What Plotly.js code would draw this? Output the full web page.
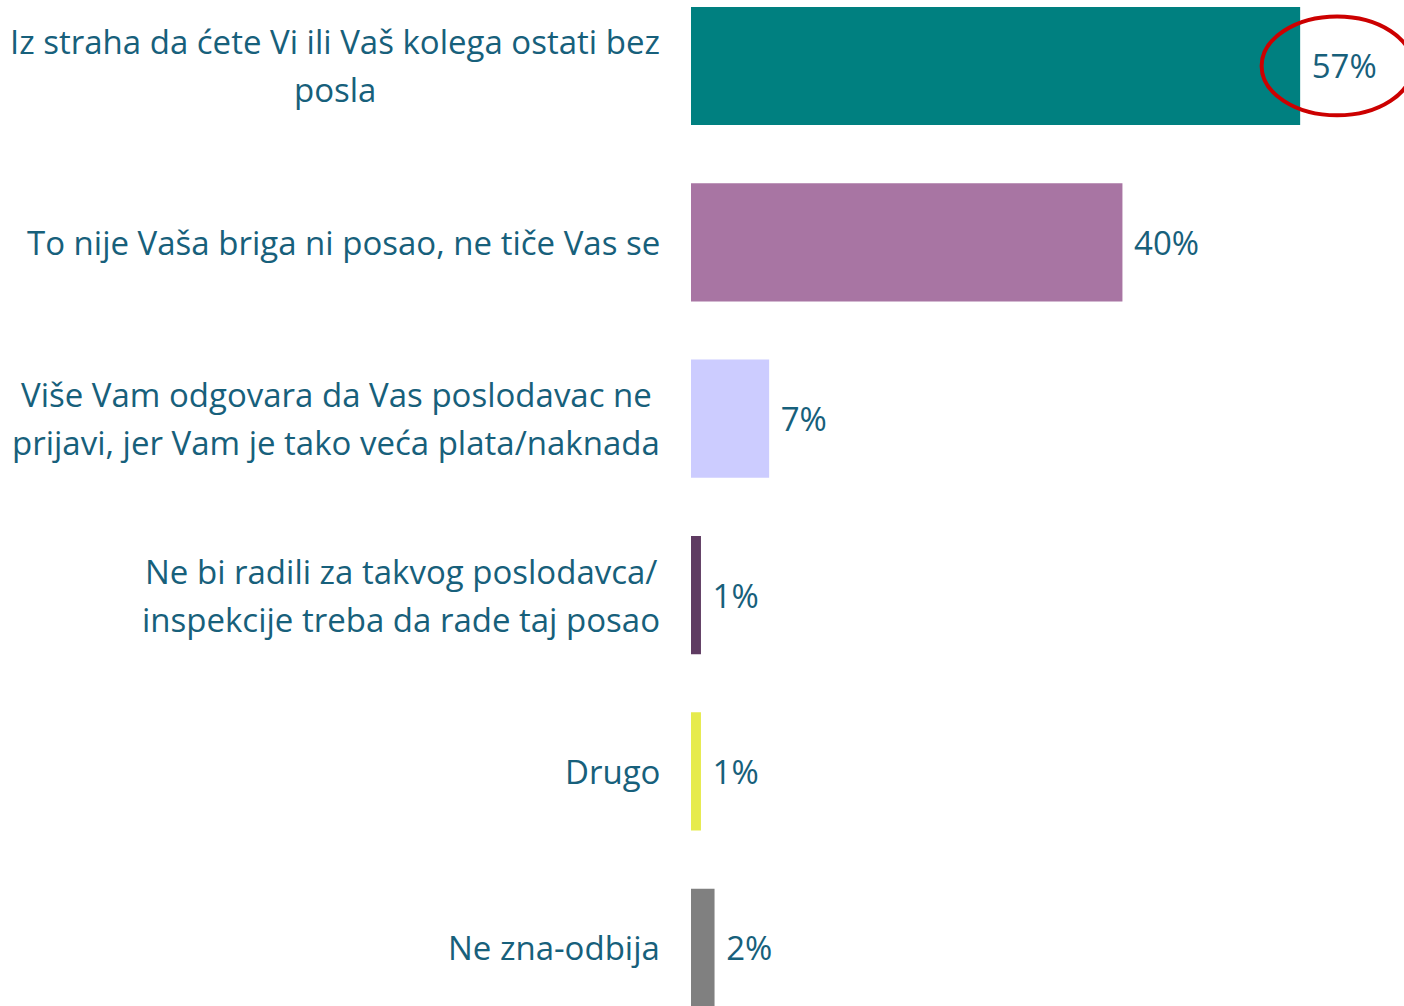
<!DOCTYPE html>
<html>
<head>
<meta charset="utf-8">
<script src="https://cdn.plot.ly/plotly-3.0.1.min.js"></script>
<style>html,body{margin:0;padding:0;background:#fff;}#chart{width:1404px;height:1006px;}</style>
</head>
<body>
<div id="chart"></div>
<script>
const categories = [
  "Iz straha da ćete Vi ili Vaš kolega ostati bez<br>posla",
  "To nije Vaša briga ni posao, ne tiče Vas se",
  "Više Vam odgovara da Vas poslodavac ne<br>prijavi, jer Vam je tako veća plata/naknada",
  "Ne bi radili za takvog poslodavca/<br>inspekcije treba da rade taj posao",
  "Drugo",
  "Ne zna-odbija"
];
const values = [56.9, 40.3, 7.3, 0.93, 0.93, 2.2];
const valueLabels = ["57%", "40%", "7%", "1%", "1%", "2%"];
const barColors = ["#008080", "#A875A3", "#CCCCFF", "#5F3B62", "#E6EB4D", "#808080"];

const ids = categories.map((c, i) => "c" + i);
const textColor = "#17607B";
const fontFam = "'Open Sans', 'Noto Sans', sans-serif";
const fontSize = 33;
const lineGap = 48;
const marginL = 691, plotW = 713, labelRight = 660;

const trace = {
  type: "bar",
  orientation: "h",
  x: values,
  y: ids,
  width: 0.67,
  marker: {color: barColors},
  text: valueLabels.map(t => " " + t),
  textposition: "outside",
  cliponaxis: false,
  textfont: {family: fontFam, size: fontSize, color: textColor},
  hoverinfo: "skip"
};

function build() {
  const ctx = document.createElement("canvas").getContext("2d");
  ctx.font = fontSize + "px 'Open Sans'";
  const annotations = [];
  categories.forEach((c, i) => {
    const lines = c.split("<br>");
    const maxW = Math.max(...lines.map(l => ctx.measureText(l).width));
    const centerPx = labelRight - maxW / 2;
    const xPaper = (centerPx - marginL) / plotW;
    lines.forEach((l, k) => {
      annotations.push({
        xref: "paper", yref: "y",
        x: xPaper, y: ids[i],
        xanchor: "center", yanchor: "middle",
        yshift: ((lines.length - 1) / 2 - k) * lineGap,
        text: l,
        showarrow: false,
        font: {family: fontFam, size: fontSize, color: textColor}
      });
    });
  });

  const layout = {
    width: 1404, height: 1006,
    margin: {l: marginL, r: 0, t: 0, b: 0},
    paper_bgcolor: "#fff", plot_bgcolor: "#fff",
    showlegend: false,
    xaxis: {range: [0, 66.6], visible: false, fixedrange: true},
    yaxis: {type: "category", categoryarray: ids, range: [5.33, -0.374], visible: false, fixedrange: true},
    annotations: annotations,
    shapes: [{
      type: "circle", xref: "x", yref: "y",
      x0: 53.3, x1: 67.4, y0: -0.28, y1: 0.28,
      line: {color: "#CC0000", width: 4}
    }]
  };
  Plotly.newPlot("chart", [trace], layout, {displayModeBar: false, staticPlot: true});
}

if (document.fonts && document.fonts.load) {
  document.fonts.load(fontSize + "px 'Open Sans'").then(build, build);
} else {
  build();
}
</script>
</body>
</html>
